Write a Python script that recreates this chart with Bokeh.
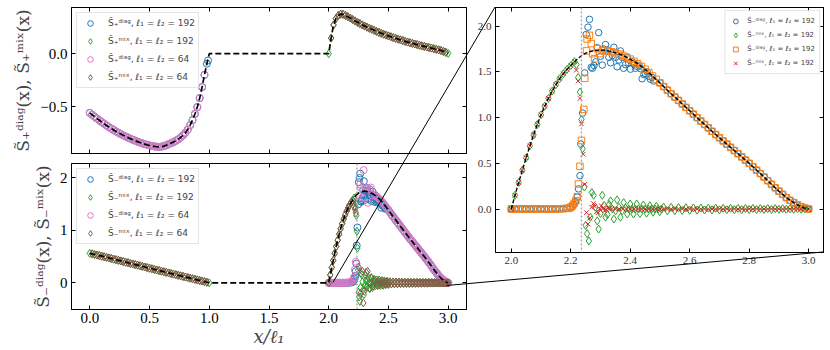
import numpy as np
from bokeh.plotting import figure
from bokeh.models import (Range1d, FixedTicker, LinearAxis, Legend, LegendItem,
                          Span, PrintfTickFormatter, CustomLabelingPolicy, Div)
from bokeh.layouts import row, column
from bokeh.embed import file_html
from bokeh.resources import INLINE
from bokeh.core.properties import value

# ---------------- sampling grids (x / l1) ----------------
x_lo = [round(0.02 * i, 4) for i in range(51)]            # 0 .. 1
x_hi_p = [round(2 + 0.02 * i, 4) for i in range(51)]      # 2 .. 3  (S+)
x_hi_m = [round(2 + 0.0125 * i, 4) for i in range(81)]    # 2 .. 3  (S-)

# ---------------- S_+ (top panel) ----------------
splus_lo = [-0.560, -0.578, -0.596, -0.613, -0.630, -0.647, -0.663, -0.679, -0.694, -0.708,
            -0.722, -0.735, -0.748, -0.760, -0.772, -0.783, -0.794, -0.804, -0.814, -0.823,
            -0.832, -0.840, -0.848, -0.855, -0.862, -0.868, -0.873, -0.877, -0.880, -0.881,
            -0.879, -0.874, -0.866, -0.856, -0.846, -0.836, -0.824, -0.810, -0.793, -0.772,
            -0.748, -0.718, -0.676, -0.628, -0.570, -0.505, -0.420, -0.316, -0.200, -0.095,
            0.000]
splus_hi = [0.000, 0.148, 0.272, 0.332, 0.362, 0.374, 0.372, 0.362, 0.350, 0.337,
            0.323, 0.310, 0.297, 0.285, 0.273, 0.262, 0.251, 0.241, 0.231, 0.221,
            0.211, 0.202, 0.193, 0.184, 0.176, 0.168, 0.160, 0.152, 0.145, 0.138,
            0.131, 0.124, 0.117, 0.110, 0.104, 0.098, 0.092, 0.086, 0.080, 0.074,
            0.069, 0.063, 0.058, 0.053, 0.047, 0.042, 0.036, 0.030, 0.022, 0.013,
            0.003]
splus_diag192_end_x = [0.99]
splus_diag192_end_y = [-0.064]

# ---------------- S_- (bottom panel and inset) ----------------
sminus_lo = [0.560, 0.550, 0.539, 0.528, 0.517, 0.506, 0.495, 0.484, 0.473, 0.462,
             0.450, 0.439, 0.428, 0.416, 0.405, 0.393, 0.382, 0.370, 0.359, 0.347,
             0.336, 0.324, 0.313, 0.301, 0.290, 0.278, 0.267, 0.256, 0.244, 0.233,
             0.222, 0.210, 0.199, 0.188, 0.177, 0.166, 0.155, 0.144, 0.133, 0.122,
             0.111, 0.100, 0.089, 0.078, 0.067, 0.056, 0.045, 0.034, 0.023, 0.012,
             0.001]
sminus_hi = [0.000, 0.150, 0.290, 0.425, 0.560, 0.690, 0.810, 0.925, 1.030, 1.125,
             1.210, 1.290, 1.360, 1.425, 1.480, 1.528, 1.570, 1.612, 1.650, 1.680,
             1.705, 1.720, 1.730, 1.737, 1.740, 1.737, 1.730, 1.721, 1.710, 1.696,
             1.680, 1.661, 1.640, 1.616, 1.590, 1.561, 1.530, 1.494, 1.455, 1.418,
             1.380, 1.340, 1.300, 1.262, 1.225, 1.188, 1.150, 1.112, 1.075, 1.038,
             1.000, 0.962, 0.925, 0.888, 0.850, 0.815, 0.780, 0.745, 0.710, 0.675,
             0.640, 0.605, 0.570, 0.535, 0.500, 0.463, 0.425, 0.388, 0.350, 0.310,
             0.270, 0.232, 0.195, 0.160, 0.125, 0.095, 0.070, 0.046, 0.025, 0.010,
             0.000]

# S~_-^diag, l=192
diag192_zero = [0.0, 0.0, 0.0, 0.0, 0.0, 0.0, 0.0, 0.0, 0.0, 0.0, 0.0, 0.0,
                0.001, 0.002, 0.004, 0.008, 0.015]
diag192_tr_x = [2.205, 2.211, 2.216, 2.222, 2.226, 2.231, 2.234, 2.240, 2.247, 2.252,
                2.258, 2.263, 2.269, 2.273, 2.278, 2.284, 2.289, 2.294, 2.300, 2.306,
                2.311, 2.317, 2.323, 2.328, 2.334, 2.340, 2.345, 2.351, 2.356, 2.362,
                2.367, 2.373, 2.378, 2.384, 2.390, 2.395, 2.401, 2.407, 2.412, 2.418,
                2.424, 2.430, 2.435, 2.440, 2.446, 2.451, 2.457, 2.463, 2.468, 2.474,
                2.479]
diag192_tr_y = [0.03, 0.05, 0.08, 0.13, 0.22, 0.365, 0.71, 1.05, 1.49, 1.91,
                1.99, 2.075, 1.55, 1.54, 1.57, 1.61, 1.765, 1.93, 1.67, 1.575,
                1.75, 1.80, 1.74, 1.66, 1.60, 1.68, 1.77, 1.66, 1.557, 1.63,
                1.73, 1.66, 1.54, 1.58, 1.66, 1.60, 1.53, 1.61, 1.59, 1.54,
                1.56, 1.57, 1.535, 1.425, 1.47, 1.48, 1.50, 1.45, 1.42, 1.44,
                1.40]
# S~_-^mix, l=192
mix192_tr_x = [2.219, 2.225, 2.231, 2.236, 2.240, 2.246, 2.250, 2.255, 2.261, 2.266,
               2.271, 2.277, 2.283, 2.289, 2.294, 2.300, 2.306, 2.312, 2.317, 2.323,
               2.329, 2.334, 2.340, 2.345, 2.351, 2.356, 2.362, 2.367, 2.373, 2.378,
               2.384, 2.390, 2.395, 2.400, 2.406, 2.411, 2.417, 2.422, 2.428, 2.433,
               2.439, 2.444, 2.450, 2.455, 2.461, 2.466, 2.472, 2.477, 2.483, 2.488,
               2.494, 2.499, 2.505]
mix192_tr_y = [1.58, 1.44, 1.28, 0.98, 0.66, 0.24, -0.18, -0.27, -0.35, -0.09,
               0.18, 0.15, 0.02, -0.13, -0.22, -0.05, 0.15, 0.04, -0.09, -0.06,
               0.05, 0.09, 0.0, -0.11, -0.02, 0.10, 0.02, -0.09, -0.02, 0.07,
               0.01, -0.055, 0.0, 0.055, 0.0, -0.055, 0.0, 0.055, 0.0, -0.05,
               0.0, 0.044, 0.0, -0.045, 0.0, 0.036, 0.0, -0.035, 0.0, 0.03,
               0.0, -0.03, 0.0]
mix192_tail = [0.02, -0.02, 0.018, -0.018, 0.016, -0.016, 0.014, -0.014, 0.012, -0.012,
               0.011, -0.011, 0.01, -0.01, 0.009, -0.009, 0.008, -0.008, 0.008, -0.008,
               0.007, -0.007, 0.006, -0.006, 0.006, -0.006, 0.005, -0.005, 0.005, -0.005,
               0.004, -0.004, 0.004, -0.004, 0.003, -0.003, 0.003, -0.003, 0.002, 0.0]
# S~_-^diag, l=64
diag64_zero = [0.0, 0.0, 0.0, 0.0, 0.0, 0.0, 0.0, 0.0, 0.0, 0.0, 0.0, 0.0,
               0.003, 0.006, 0.012, 0.022]
diag64_tr_x = [2.203, 2.211, 2.219, 2.227, 2.250, 2.262, 2.270, 2.281, 2.292, 2.305,
               2.317, 2.328, 2.340, 2.352, 2.364]
diag64_tr_y = [0.04, 0.10, 0.25, 0.40, 1.65, 1.87, 1.80, 1.62, 2.14, 1.79,
               1.80, 1.52, 1.78, 1.81, 1.66]
# S~_-^mix, l=64
mix64_tr_x = [2.203, 2.213, 2.220, 2.227, 2.250, 2.266, 2.281, 2.289, 2.297, 2.313,
              2.325, 2.340, 2.356, 2.371, 2.387, 2.403]
mix64_tr_y = [1.56, 1.45, 1.40, 1.33, 0.30, -0.20, 0.22, -0.38, -0.16, 0.20,
              0.22, -0.10, 0.09, -0.06, 0.05, -0.04]
mix64_tail = [0.04, -0.035, 0.03, -0.03, 0.025, -0.025, 0.022, -0.02, 0.018, -0.018,
              0.016, -0.015, 0.014, -0.013, 0.012, -0.012, 0.011, -0.01, 0.01, -0.01,
              0.009, -0.009, 0.008, -0.008, 0.008, -0.007, 0.007, -0.007, 0.006, -0.006,
              0.006, -0.005, 0.005, -0.005, 0.005, -0.004, 0.004, -0.004, 0.004, -0.003,
              0.003, -0.003, 0.003, -0.002, 0.002, -0.002, 0.001, 0.0]
# S-bar_-^diag, l=192
bdiag192_zero = [0.0, 0.0, 0.0, 0.0, 0.0, 0.0, 0.0, 0.0, 0.0, 0.0, 0.0, 0.0, 0.0,
                 0.002, 0.004, 0.007]
bdiag192_tr_x = [2.195, 2.200, 2.206, 2.211, 2.217, 2.222, 2.226, 2.231, 2.236, 2.244,
                 2.247, 2.253, 2.255, 2.263, 2.269, 2.274, 2.280, 2.289, 2.298, 2.306]
bdiag192_tr_y = [0.01, 0.02, 0.035, 0.06, 0.09, 0.135, 0.274, 0.467, 0.75, 1.09,
                 1.43, 1.73, 1.86, 1.90, 1.81, 1.70, 1.645, 1.755, 1.70, 1.73]
# S-bar_-^mix, l=192
bmix192_tr_x = [2.219, 2.225, 2.231, 2.236, 2.242, 2.247, 2.253, 2.258, 2.264, 2.270,
                2.276, 2.281, 2.287, 2.292, 2.298, 2.303, 2.309, 2.314, 2.320, 2.325,
                2.331]
bmix192_tr_y = [1.52, 1.40, 1.21, 0.93, 0.60, 0.27, -0.04, -0.165, -0.10, 0.02,
                0.06, 0.03, -0.03, -0.04, 0.0, 0.035, 0.01, -0.02, -0.01, 0.015,
                0.005]
bmix192_tail = [0.0] * 54

transition_x = 2.236
inset_anchor_1 = (2.04, 0.0)     # bottom-panel point joined to inset top-left corner
inset_anchor_2 = (2.99, -0.06)   # bottom-panel point joined to inset bottom-right corner

x_ticks_main = [0.0, 0.5, 1.0, 1.5, 2.0, 2.5, 3.0]
y_ticks_top = [-0.5, 0.0]
y_ticks_bot = [0, 1, 2]
x_ticks_ins = [2.0, 2.2, 2.4, 2.6, 2.8, 3.0]
y_ticks_ins = [0.0, 0.5, 1.0, 1.5, 2.0]

# ---------------- series assembly ----------------
top_diag192 = (x_lo[:50] + splus_diag192_end_x, splus_lo[:50] + splus_diag192_end_y)
top_mix192 = (x_hi_p, splus_hi)
top_diag64 = (x_lo[:49], splus_lo[:49])
top_mix64 = (x_hi_p[1:50], splus_hi[1:50])
top_exact = (x_lo + x_hi_p, splus_lo + splus_hi)

diag192 = (x_hi_m[:17] + diag192_tr_x + x_hi_m[40:], diag192_zero + diag192_tr_y + sminus_hi[40:])
mix192_in = (x_hi_m[:18] + mix192_tr_x + x_hi_m[41:], sminus_hi[:18] + mix192_tr_y + mix192_tail)
mix192_all = (x_lo + mix192_in[0], sminus_lo + mix192_in[1])
diag64 = (x_hi_m[:16] + diag64_tr_x + x_hi_m[31:], diag64_zero + diag64_tr_y + sminus_hi[31:])
mix64 = (x_lo[1:50] + x_hi_m[:16] + mix64_tr_x + x_hi_m[33:],
         sminus_lo[1:50] + sminus_hi[:16] + mix64_tr_y + mix64_tail)
bdiag192 = (x_hi_m[:16] + bdiag192_tr_x + x_hi_m[25:], bdiag192_zero + bdiag192_tr_y + sminus_hi[25:])
bmix192 = (x_hi_m[:18] + bmix192_tr_x + x_hi_m[27:], sminus_hi[:18] + bmix192_tr_y + bmix192_tail)
bot_exact = (x_lo + x_hi_m, sminus_lo + sminus_hi)
ins_exact = (x_hi_m, sminus_hi)

# ---------------- styling / geometry ----------------
BLUE, ORANGE, GREEN, RED, BROWN, PINK = "#1f77b4", "#ff7f0e", "#2ca02c", "#d62728", "#8c564b", "#e377c2"
SERIF = "Liberation Serif"
LABEL_FONT = "DejaVu Serif"
LEG_FONT = "DejaVu Sans"

W_L, W_R = 470, 360
H_T, H_B = 158, 192
H_R = H_T + H_B
B_TOP = dict(l=71, r=4, t=7, b=5)
B_BOT = dict(l=71, r=4, t=5, b=41)
B_INS = dict(l=25, r=7, t=7, b=98)

XR_MAIN = (-0.153, 3.153)
YR_TOP = (-0.944, 0.437)
YR_BOT = (-0.506, 2.266)
XR_INS = (1.947, 3.05)
YR_INS = (-0.476, 2.205)

HIDE_JS = "for (let i = 0; i < indices.size; i++) { indices.unset(i) }\nreturn indices"


def frame_rect(ox, oy, w, h, b):
    return (ox + b["l"], oy + b["t"], w - b["l"] - b["r"], h - b["t"] - b["b"])


R_BOT = frame_rect(0, H_T, W_L, H_B, B_BOT)
R_INS = frame_rect(W_L, 0, W_R, H_R, B_INS)


def to_page(rect, xr, yr, x, y):
    L, T, FW, FH = rect
    return (L + (x - xr[0]) / (xr[1] - xr[0]) * FW, T + (yr[1] - y) / (yr[1] - yr[0]) * FH)


def make_fig(w, h, xr, yr, b):
    p = figure(width=w, height=h, x_range=Range1d(*xr), y_range=Range1d(*yr),
               output_backend="svg", toolbar_location=None,
               min_border_left=b["l"], min_border_right=b["r"],
               min_border_top=b["t"], min_border_bottom=b["b"])
    p.grid.visible = False
    p.outline_line_color = "black"
    p.outline_line_alpha = 1.0
    p.outline_line_width = 1
    p.background_fill_color = "white"
    p.border_fill_color = "white"
    return p


def style_axis(ax, ticks, fmt, size, show=True, overrides=None, color="black"):
    ax.ticker = FixedTicker(ticks=ticks)
    ax.formatter = PrintfTickFormatter(format=fmt)
    if overrides:
        ax.major_label_overrides = overrides
    ax.major_tick_in = 4
    ax.major_tick_out = 0
    ax.minor_tick_in = 0
    ax.minor_tick_out = 0
    ax.axis_line_color = "black"
    ax.major_tick_line_color = "black"
    ax.major_label_text_font = SERIF
    ax.major_label_text_color = color
    if show:
        ax.major_label_text_font_size = size
        ax.major_label_standoff = 4
        ax.axis_label_standoff = 4
    else:
        ax.major_label_text_font_size = "0px"
        ax.major_label_standoff = 0
        ax.axis_label_standoff = 0
        ax.major_label_policy = CustomLabelingPolicy(code=HIDE_JS)


def add_frame_axes(p, xt, yt, xfmt, yfmt, size, show_x, yover=None, color="black"):
    bx = p.xaxis[0]
    ly = p.yaxis[0]
    style_axis(bx, xt, xfmt, size, show_x, color=color)
    style_axis(ly, yt, yfmt, size, True, yover, color=color)
    top_ax = LinearAxis()
    style_axis(top_ax, xt, xfmt, size, False)
    right_ax = LinearAxis()
    style_axis(right_ax, yt, yfmt, size, False)
    p.add_layout(top_ax, "above")
    p.add_layout(right_ax, "right")
    return bx, ly


def scat(p, data, marker, color, size):
    return p.scatter(data[0], data[1], marker=marker, size=size, fill_color=None,
                     line_color=color, line_width=1)


def add_legend(p, items, font_size, loc, margin, padding, spacing, gw, gh, standoff):
    lg = Legend(items=[LegendItem(label=value(t), renderers=[r]) for t, r in items],
                location=loc)
    lg.label_text_font = LEG_FONT
    lg.label_text_font_size = font_size
    lg.border_line_color = "#cccccc"
    lg.border_line_width = 1
    lg.background_fill_color = "white"
    lg.background_fill_alpha = 0.8
    lg.margin = margin
    lg.padding = padding
    lg.spacing = spacing
    lg.glyph_width = gw
    lg.glyph_height = gh
    lg.label_height = gh
    lg.label_standoff = standoff
    p.add_layout(lg)


S_T = "S\u0303"
S_B = "S\u0304"
DIAG = "\u1d48\u2071\u1d43\u1d4d"
MIX = "\u1d50\u2071\u02e3"
PLUS, MINUS = "\u208a", "\u208b"
L192 = ", \u2113\u2081 = \u2113\u2082 = 192"
L64 = ", \u2113\u2081 = \u2113\u2082 = 64"

# ---------------- top panel: S_+ ----------------
top = make_fig(W_L, H_T, XR_MAIN, YR_TOP, B_TOP)
tbx, tly = add_frame_axes(top, x_ticks_main, y_ticks_top, "%.1f", "%.1f", "15px", False,
                          yover={-0.5: "\u22120.5"})
tly.axis_label = f"{S_T}{PLUS}{DIAG}(x), {S_T}{PLUS}{MIX}(x)"
r1 = scat(top, top_diag192, "circle", BLUE, 7)
r2 = scat(top, top_mix192, "diamond", GREEN, 8)
r3 = scat(top, top_diag64, "circle", PINK, 7)
r4 = scat(top, top_mix64, "diamond", BROWN, 8)
top.line(top_exact[0], top_exact[1], line_color="black", line_dash="6 3", line_width=1.7)
add_legend(top, [(f"{S_T}{PLUS}{DIAG}{L192}", r1), (f"{S_T}{PLUS}{MIX}{L192}", r2),
                 (f"{S_T}{PLUS}{DIAG}{L64}", r3), (f"{S_T}{PLUS}{MIX}{L64}", r4)],
           "9px", "top_left", 5, 3, 4, 20, 14, 8)

# ---------------- bottom panel: S_- ----------------
bot = make_fig(W_L, H_B, XR_MAIN, YR_BOT, B_BOT)
bbx, bly = add_frame_axes(bot, x_ticks_main, y_ticks_bot, "%.1f", "%.0f", "15px", True)
bly.axis_label = f"{S_T}{MINUS}{DIAG}(x), {S_T}{MINUS}{MIX}(x)"
bbx.axis_label = "x/\u2113\u2081"
bbx.axis_label_text_font = LABEL_FONT
bbx.axis_label_text_font_size = "18px"
bbx.axis_label_text_font_style = "italic"
bbx.axis_label_standoff = 0
bbx.major_label_standoff = 3
b1 = scat(bot, diag192, "circle", BLUE, 7)
b2 = scat(bot, mix192_all, "diamond", GREEN, 8)
b3 = scat(bot, diag64, "circle", PINK, 7)
b4 = scat(bot, mix64, "diamond", BROWN, 8)
bot.line(bot_exact[0], bot_exact[1], line_color="black", line_dash="6 3", line_width=1.7)
bot.add_layout(Span(location=transition_x, dimension="height", line_color="#a0a0a0",
                    line_dash="2 2", line_width=1.3))
add_legend(bot, [(f"{S_T}{MINUS}{DIAG}{L192}", b1), (f"{S_T}{MINUS}{MIX}{L192}", b2),
                 (f"{S_T}{MINUS}{DIAG}{L64}", b3), (f"{S_T}{MINUS}{MIX}{L64}", b4)],
           "9px", "top_left", 5, 3, 4, 20, 14, 8)

for ax in (tly, bly):
    ax.axis_label_text_font = LABEL_FONT
    ax.axis_label_text_font_size = "17px"
    ax.axis_label_text_font_style = "normal"
tly.major_label_text_font_size = "15px"
bly.major_label_text_font_size = "15px"

# ---------------- inset panel ----------------
ins = make_fig(W_R, H_R, XR_INS, YR_INS, B_INS)
add_frame_axes(ins, x_ticks_ins, y_ticks_ins, "%.1f", "%.1f", "11px", True, color="#333333")
i1 = scat(ins, diag192, "circle", BLUE, 6.5)
i2 = scat(ins, mix192_in, "diamond", GREEN, 8)
i3 = scat(ins, bdiag192, "square", ORANGE, 6.5)
i4 = scat(ins, bmix192, "x", RED, 6.5)
ins.line(ins_exact[0], ins_exact[1], line_color="black", line_dash="4 2", line_width=1.4)
ins.add_layout(Span(location=transition_x, dimension="height", line_color="#a0a0a0",
                    line_dash="2 2", line_width=1.3))
add_legend(ins, [(f"{S_T}{MINUS}{DIAG}{L192}", i1), (f"{S_T}{MINUS}{MIX}{L192}", i2),
                 (f"{S_B}{MINUS}{DIAG}{L192}", i3), (f"{S_B}{MINUS}{MIX}{L192}", i4)],
           "7px", "top_right", 3, 4, 2, 12, 12, 6)

# ---------------- inset connectors (overlay, positions from the panel scales) ----------------
A = to_page(R_BOT, XR_MAIN, YR_BOT, *inset_anchor_1)
B = to_page(R_INS, XR_INS, YR_INS, XR_INS[0], YR_INS[1])
C = to_page(R_BOT, XR_MAIN, YR_BOT, *inset_anchor_2)
D = to_page(R_INS, XR_INS, YR_INS, XR_INS[1], YR_INS[0])
W_ALL = W_L + W_R
seg = "".join(
    f'<line x1="{p[0]:.1f}" y1="{p[1]:.1f}" x2="{q[0]:.1f}" y2="{q[1]:.1f}" '
    f'stroke="black" stroke-width="1"/>' for p, q in ((A, B), (C, D)))
svg = (f'<svg xmlns="http://www.w3.org/2000/svg" width="{W_ALL}" height="{H_R}" '
       f'style="position:absolute;left:0px;top:0px;overflow:visible;pointer-events:none">'
       f'{seg}</svg>')
overlay = Div(text=svg, width=W_ALL, height=H_R, margin=0,
              styles={"position": "absolute", "left": "0px", "top": "0px",
                      "overflow": "visible", "pointer-events": "none", "z-index": "5"})

layout = row(column(top, bot), ins, overlay, styles={"position": "relative"})
open("out.html", "w").write(file_html(layout, INLINE))
